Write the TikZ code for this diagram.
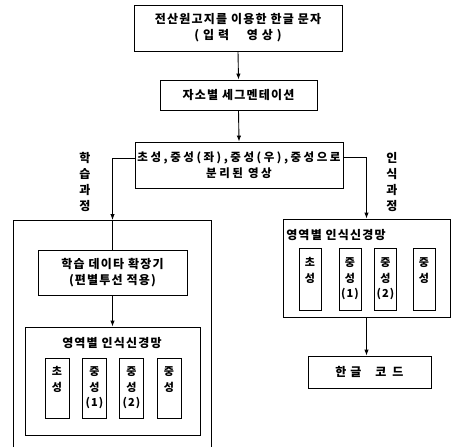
\documentclass[tikz,border=0pt]{standalone}
\usepackage{fontspec}
\newfontfamily\kr[LetterSpace=10]{Noto Sans CJK KR}
\newfontfamily\krw[LetterSpace=22]{Noto Sans CJK KR}
\usetikzlibrary{arrows.meta}
\tikzset{
  box/.style={draw, line width=0.9pt, inner sep=0pt},
  txt/.style={font=\kr\bfseries\fontsize{12}{16}\selectfont, align=center, inner sep=0pt},
  sub/.style={draw, line width=0.8pt, inner sep=0pt, minimum width=24pt, minimum height=60pt},
  subtxt/.style={font=\kr\bfseries\fontsize{11}{15.5}\selectfont, align=center, inner sep=0pt, anchor=north},
  arr/.style={-{Latex[length=6pt,width=4.5pt]}, line width=0.9pt},
  ln/.style={line width=0.9pt}
}
\begin{document}
\begin{tikzpicture}[x=1pt,y=-1pt]
\useasboundingbox (0,0) rectangle (452,447);
% main chain
\node[box, txt, minimum width=208pt, minimum height=46pt] (top) at (238,28)
  {전산원고지를 이용한 한글 문자\\( 입 력 \hspace{10pt} 영 상 )};
\node[box, txt, minimum width=157pt, minimum height=30pt] (seg) at (238.5,95)
  {자소별 세그멘테이션};
\node[box, txt, minimum width=208pt, minimum height=46pt, font=\krw\bfseries\fontsize{11.5}{16}\selectfont] (sep) at (239,165)
  {초성,중성(좌),중성(우),중성으로\\분리된 영상};
\draw[arr] (top.south) -- (seg.north);
\draw[arr] (seg.south) -- (sep.north);
% learning side
\coordinate (bl1) at (13,447);
\coordinate (bl2) at (13,220);
\coordinate (bl3) at (211,220);
\coordinate (bl4) at (211,447);
\draw[ln] (bl1) -- (bl2) -- (bl3) -- (bl4);
\node[box, txt, minimum width=149pt, minimum height=45pt] (learn) at (112.5,272.5)
  {학습 데이타 확장기\\(편별투선 적용)};
\coordinate (lt) at (learn.north |- bl2);
\draw[arr] ([yshift=7pt]sep.west) -| (lt);
\draw[ln] (lt) -- (learn.north);
\node[txt] (lab1) at (85,182) {학\\습\\과\\정};
\node[box, minimum width=175pt, minimum height=108pt] (lnet) at (112.5,381) {};
\draw[arr] (learn.south) -- (lnet.north);
\node[txt] (lnett) at (112,343) {영역별 인식신경망};
\node[sub] (l1) at (57,388) {};
\node[sub] (l2) at (94.5,388) {};
\node[sub] (l3) at (131.5,388) {};
\node[sub] (l4) at (169,388) {};
\node[subtxt] (l1t) at ([yshift=-9pt]l1.north) {초\\성};
\node[subtxt] (l2t) at ([yshift=-9pt]l2.north) {중\\성\\(1)};
\node[subtxt] (l3t) at ([yshift=-9pt]l3.north) {중\\성\\(2)};
\node[subtxt] (l4t) at ([yshift=-9pt]l4.north) {중\\성};
% recognition side
\node[box, minimum width=167pt, minimum height=98pt] (rnet) at (366.5,268) {};
\draw[arr] ([yshift=8pt]sep.east) -| (rnet.north);
\node[txt] (lab2) at (392,182) {인\\식\\과\\정};
\node[txt] (rnett) at (336,235) {영역별 인식신경망};
\node[sub, minimum width=22pt, minimum height=62pt] (r1) at (310,279) {};
\node[sub, minimum width=22pt, minimum height=62pt] (r2) at (350,279) {};
\node[sub, minimum width=22pt, minimum height=62pt] (r3) at (385.5,279) {};
\node[sub, minimum width=22pt, minimum height=62pt] (r4) at (424,279) {};
\node[subtxt] (r1t) at ([yshift=-10pt]r1.north) {초\\성};
\node[subtxt] (r2t) at ([yshift=-10pt]r2.north) {중\\성\\(1)};
\node[subtxt] (r3t) at ([yshift=-10pt]r3.north) {중\\성\\(2)};
\node[subtxt] (r4t) at ([yshift=-10pt]r4.north) {중\\성};
\node[box, minimum width=123pt, minimum height=32pt, txt] (code) at (369.5,372)
  {한 글\hspace{14pt}코 \,드};
\draw[arr] (rnet.south) -- (rnet.south |- code.north);
\end{tikzpicture}
\end{document}
